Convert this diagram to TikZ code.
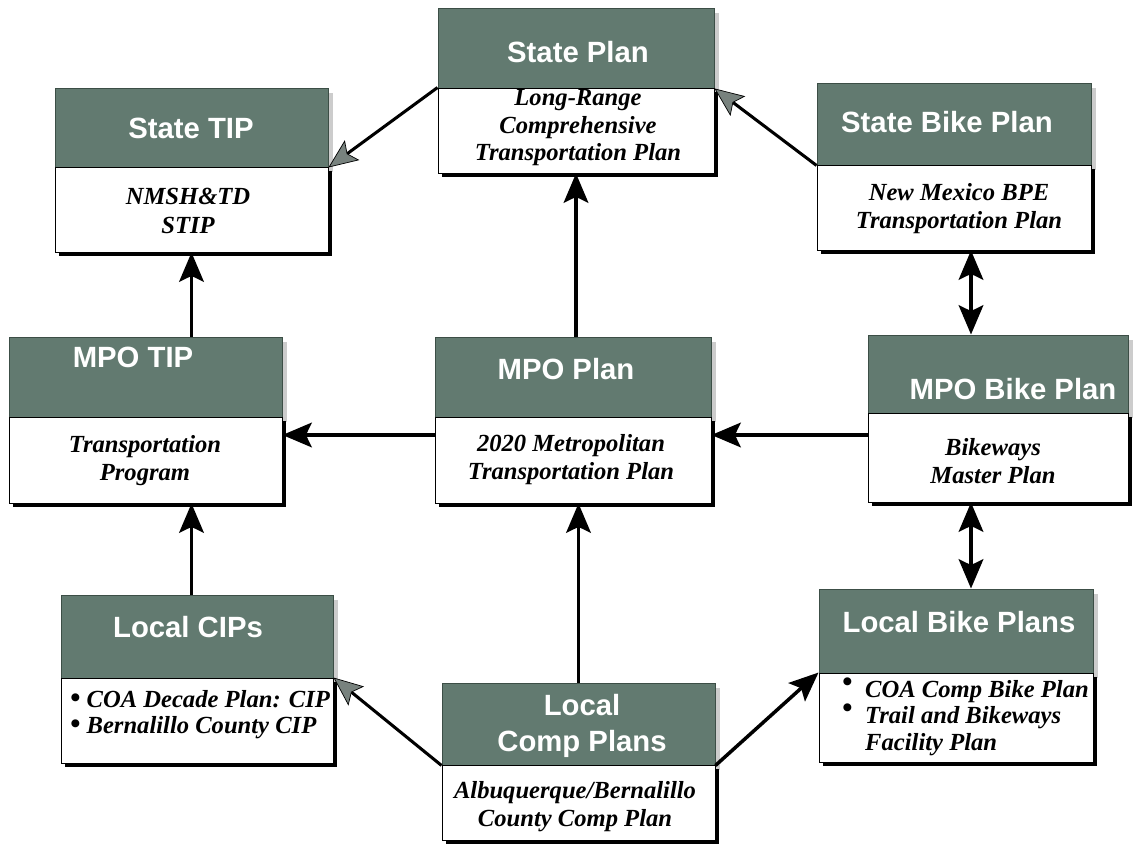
\documentclass[tikz,border=0pt]{standalone}
\usepackage{fontspec}
\setmainfont{Liberation Serif}
\newfontfamily\hdfont{Liberation Sans}
\usetikzlibrary{arrows.meta,fit,calc}
\definecolor{hdrc}{RGB}{98,122,112}
\definecolor{hdrline}{RGB}{60,78,70}
\definecolor{tipgray}{RGB}{120,130,126}
\newcommand\planbox[6]{%
  \fill[gray!40] (#2+5,#4+5) rectangle (#3+5,#5+5);
  \fill[black] (#2+4,#5+4) rectangle (#3+4,#6+4);
  \node[hdr, fit={(#2,#4) (#3,#5)}] (#1h) {};
  \node[bdy, fit={(#2,#5) (#3,#6)}] (#1b) {};
}
\newcommand\bigbul{\smash{\fontsize{25}{22.5}\selectfont\textbullet}}
\begin{document}
\begin{tikzpicture}[x=0.03cm,y=-0.03cm,
  hdr/.style={draw=hdrline, line width=0.8pt, fill=hdrc, inner sep=0pt},
  bdy/.style={draw=black, line width=0.8pt, fill=white, inner sep=0pt},
  htxt/.style={font=\hdfont\fontsize{25}{31}\selectfont\bfseries, text=white, align=center, inner sep=0pt},
  btxt/.style={font=\fontsize{21}{24}\selectfont\bfseries\itshape, align=center, inner sep=0pt},
  ltxt/.style={font=\fontsize{21}{22.5}\selectfont\bfseries\itshape, align=left, inner sep=0pt, anchor=north west},
  arr/.style={line width=3pt, -{Stealth[length=25pt,width=21pt,inset=5pt]}},
  garr/.style={line width=2.6pt, -{Stealth[length=25pt,width=21pt,inset=5pt,color=black,fill=tipgray,line width=0.6pt]}},
  darr/.style={line width=3pt, {Stealth[length=25pt,width=21pt,inset=5pt]}-{Stealth[length=25pt,width=21pt,inset=5pt]}},
]
\useasboundingbox (0,0) rectangle (1135,853);

% boxes: name, left, right, top, mid, bottom
\planbox{stip}{55}{328}{88}{167}{252}
\planbox{sp}{438}{714}{8}{88}{173}
\planbox{sbp}{817}{1091}{83}{165}{250}
\planbox{mtip}{9}{282}{337}{417}{503}
\planbox{mp}{435}{711}{337}{417}{503}
\planbox{mbp}{868}{1128}{335}{413}{502}
\planbox{lcip}{61}{333}{595}{678}{763}
\planbox{lcp}{442}{715}{683}{765}{840}
\planbox{lbp}{819}{1093}{589}{673}{762}

% header texts
\node[htxt] (stipt) at (191,128) {State TIP};
\node[htxt] (spt) at (578,52) {State Plan};
\node[htxt] (sbpt) at (947,122) {State Bike Plan};
\node[htxt] (mtipt) at (133,357) {MPO TIP};
\node[htxt] (mpt) at (566,369) {MPO Plan};
\node[htxt] (mbpt) at (1013,389) {MPO Bike Plan};
\node[htxt] (lcipt) at (188,627) {Local CIPs};
\node[htxt] (lcpt) at (582,726) {Local\\Comp Plans};
\node[htxt] (lbpt) at (959,622) {Local Bike Plans};

% body texts
\node[btxt] (stipd) at (188,211) {NMSH\&TD\\STIP};
\node[btxt, font=\fontsize{21}{23.5}\selectfont\bfseries\itshape] (spd) at (578,128) {Long-Range\\Comprehensive\\Transportation Plan};
\node[btxt] (sbpd) at (959,209) {New Mexico BPE\\Transportation Plan};
\node[btxt] (mtipd) at (145,461) {Transportation\\Program};
\node[btxt] (mpd) at (571,460) {2020 Metropolitan\\Transportation Plan};
\node[btxt] (mbpd) at (993,461) {Bikeways\\Master Plan};
\node[btxt] (lcpd) at (575,807) {Albuquerque/Bernalillo\\County Comp Plan};
\node[ltxt] (lcipd) at (70,690) {\bigbul\ COA Decade Plan: CIP\\\bigbul\ Bernalillo County CIP};
\node[ltxt] (lbpd) at (865,680) {\llap{\raisebox{5pt}{\bigbul}\hspace{11pt}}COA Comp Bike Plan\\\llap{\raisebox{5pt}{\bigbul}\hspace{11pt}}Trail and Bikeways\\Facility Plan};

% helper coordinates
\coordinate (bx) at (971,0);
\coordinate (ly) at (0,435);

% connectors
\draw[garr] (spb.north west) -- (stiph.south east);
\draw[garr] (sbph.south west) -- (sph.south east);
\draw[arr] (mtiph.north -| stipb.south) -- (stipb.south);
\draw[arr] (mph.north -| spb.south) -- (spb.south);
\draw[arr] (mpb.west |- ly) -- (mtipb.east |- ly);
\draw[arr] (mbpb.west |- ly) -- (mpb.east |- ly);
\draw[darr] (sbpb.south -| bx) -- (mbph.north -| bx);
\draw[darr] (mbpb.south -| bx) -- (lbph.north -| bx);
\draw[arr] (lciph.north -| stipb.south) -- (mtipb.south -| stipb.south);
\draw[arr] (lcph.north) -- (mpb.south -| lcph.north);
\draw[garr] (lcph.south west) -- (lcipb.north east);
\draw[arr] (lcph.south east) -- (lbpb.north west);
\end{tikzpicture}
\end{document}
